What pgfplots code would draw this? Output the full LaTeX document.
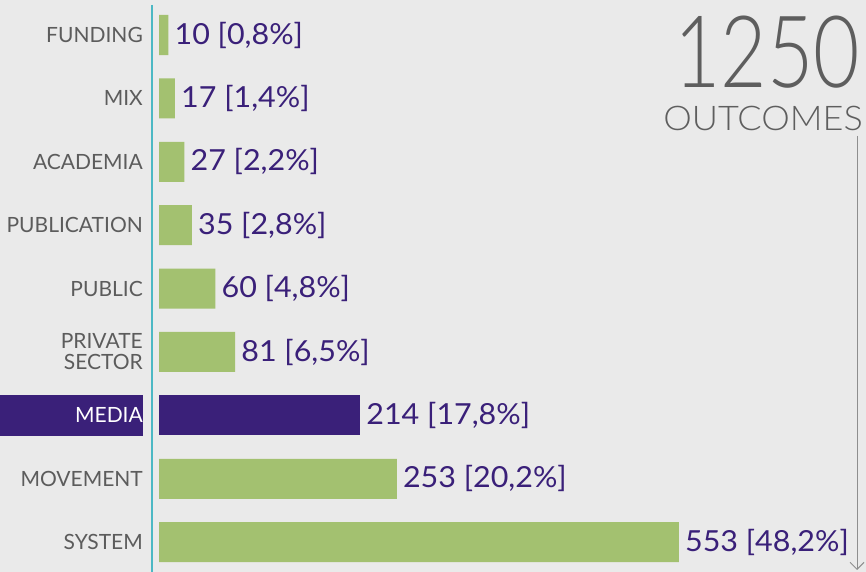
\documentclass[border=0pt]{standalone}
\usepackage{pgfplots}
\pgfplotsset{compat=1.18}
\usepackage{pgfplotstable}
\usepackage{fontspec}
\setmainfont{Lato}
\newfontfamily\latolight{Lato Light}
\usetikzlibrary{arrows.meta}
\definecolor{bgc}{HTML}{EAEAEA}
\definecolor{bargreen}{HTML}{A3C170}
\definecolor{mediapurple}{HTML}{3A2079}
\definecolor{labgray}{HTML}{5C5C5C}
\definecolor{biggray}{HTML}{5E5E5E}
\definecolor{tealline}{HTML}{4CB8C4}
\definecolor{arrowgray}{HTML}{8E8E8E}

\pgfplotstableread{
idx val pct
0 10 0.8
1 17 1.4
2 27 2.2
3 35 2.8
4 60 4.8
5 81 6.5
7 253 20.2
8 553 48.2
}\greens
\pgfplotstableread{
idx val pct
6 214 17.8
}\media

\begin{document}
\begin{tikzpicture}
\fill[bgc] (0,0) rectangle (866bp,572bp);
\draw[tealline, line width=2.4bp] (152bp,567bp) -- (152bp,0);
\begin{axis}[
  at={(159bp,568.7bp)}, anchor=north west,
  scale only axis, width=707bp, height=570.6bp,
  xmin=0, xmax=752, ymin=-0.5, ymax=8.5, y dir=reverse,
  axis line style={draw=none},
  xtick=\empty,
  ytick={0,...,8},
  major tick length=0pt,
  yticklabels={FUNDING,MIX,ACADEMIA,PUBLICATION,PUBLIC,PRIVATE\\SECTOR,
    {\fboxsep=0pt\colorbox{mediapurple}{\parbox[c][41bp][c]{143bp}{\raggedleft\color{white}MEDIA}}},
    MOVEMENT,SYSTEM},
  yticklabel style={anchor=east, inner sep=0pt, xshift=-16bp, align=right,
    text=labgray, font=\fontsize{21bp}{21bp}\selectfont},
  xbar, bar width=40bp, bar shift=0pt,
  clip=false,
  /pgf/number format/assume math mode=true,
  point meta=x,
  visualization depends on={\thisrow{pct}\as\pct},
  nodes near coords={\pgfmathprintnumber[fixed,precision=0]{\pgfplotspointmeta}\ [\pgfmathprintnumber[fixed,fixed zerofill,precision=1,use comma]{\pct}\%]},
  nodes near coords style={anchor=west, inner sep=0pt, xshift=6bp, text=mediapurple,
    font=\fontsize{29bp}{30bp}\selectfont, xscale=1.05},
]
\addplot[draw=none, fill=bargreen] table[x=val, y=idx] {\greens};
\addplot[draw=none, fill=mediapurple] table[x=val, y=idx] {\media};
\end{axis}
\node[anchor=base east, inner sep=0pt, text=biggray, xscale=0.8, font=\latolight\fontsize{100bp}{100bp}\selectfont] at (860bp,484bp) {1250};
\node[anchor=base east, inner sep=0pt, text=biggray, xscale=1.06, font=\latolight\fontsize{34bp}{34bp}\selectfont] at (863bp,441bp) {OUTCOMES};
\draw[arrowgray, line width=1bp, -{Straight Barb[length=7bp,width=14bp]}] (857bp,436bp) -- (857bp,2bp);
\pgfresetboundingbox
\useasboundingbox (0,0) rectangle (866bp,572bp);
\end{tikzpicture}
\end{document}
